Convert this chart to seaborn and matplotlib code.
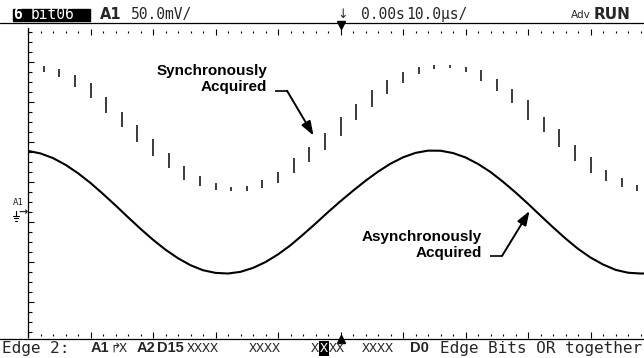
import matplotlib
matplotlib.use("Agg")
import matplotlib.pyplot as plt
from matplotlib.lines import Line2D
from matplotlib.patches import Rectangle
import seaborn as sns
import pandas as pd

# ---- synchronously acquired trace: one vertical bar per sample (µs, mV) ----
sync_t = [-47.5, -45.0, -42.5, -40.0, -37.5, -35.0, -32.5, -30.0, -27.5, -25.0,
          -22.5, -20.0, -17.5, -15.0, -12.5, -10.0, -7.5, -5.0, -2.5, 0.0,
          2.5, 5.0, 7.5, 10.0, 12.5, 15.0, 17.5, 20.0, 22.5, 25.0,
          27.5, 30.0, 32.5, 35.0, 37.5, 40.0, 42.5, 45.0, 47.5]
sync_hi = [182.5, 178.4, 171.3, 160.9, 144.1, 125.4, 108.8, 91.3, 73.4, 57.5,
           45.0, 35.9, 31.6, 32.5, 40.0, 50.4, 67.1, 80.9, 99.1, 118.4,
           135.0, 152.5, 165.0, 175.4, 181.6, 183.8, 183.8, 181.6, 177.5, 165.9,
           153.8, 140.0, 119.1, 103.8, 83.8, 68.4, 52.5, 42.1, 33.8]
sync_lo = [175.4, 168.4, 155.9, 142.1, 123.4, 105.9, 87.9, 70.4, 54.6, 40.0,
           32.5, 27.5, 26.6, 26.6, 29.6, 35.9, 48.4, 62.1, 77.5, 95.0,
           115.0, 130.9, 147.5, 160.9, 172.5, 178.8, 179.6, 174.6, 164.1, 151.3,
           135.9, 115.0, 99.6, 80.9, 64.1, 48.4, 39.1, 30.9, 26.6]

# ---- asynchronously acquired trace (µs, mV) ----
async_t = [-50, -48, -46, -44, -42, -40, -38, -36, -34, -32, -30, -28, -26,
           -24, -22, -20, -18, -16, -14, -12, -10, -8, -6, -4, -2,
           0, 2, 4, 6, 8, 10, 12, 14, 16, 18, 20, 22, 24, 26, 28,
           30, 32, 34, 36, 38, 40, 42, 44, 46, 48, 48.6]
async_mv = [76.4, 73.2, 67.4, 59.0, 48.5, 36.3, 22.6, 8.3, -6.5, -21.0, -34.7,
            -47.1, -57.8, -66.5, -72.8, -76.1, -76.9, -74.8, -69.9, -62.6,
            -53.0, -41.6, -28.3, -14.5, -0.2,
            13.5, 26.5, 39.0, 50.4, 60.4, 68.3, 73.9, 76.7, 76.6, 73.7, 68.2,
            60.1, 50.0, 37.8, 24.5, 10.3, -4.5, -19.1, -33.1, -46.0, -56.9,
            -65.6, -72.3, -75.9, -76.9, -76.8]

header_left = ["6", "bit06"]
status_tokens = ["Edge 2:", "A1", "↱", "X", "A2", "D15", "XXXX", "XXXX", "X",
                 "X", "XX", "XXXX", "D0", "Edge Bits OR together"]

W, H = 644, 358
sns.set_theme(style="white")
plt.rcParams["font.family"] = ["DejaVu Sans", "DejaVu Sans Mono"]

fig = plt.figure(figsize=(W / 100, H / 100), dpi=100)
fig.patch.set_facecolor("white")


def fx(px):
    return px / W


def fy(py):
    return 1 - py / H


# screen: 10 µs/div horizontally, 50 mV/div vertically
top_px, bot_px = 31.5, 335
ax = fig.add_axes([fx(28), fy(bot_px), (653 - 28) / W, (bot_px - top_px) / H])
ax.set_facecolor("white")
ax.set_xlim(-50, 50)
v_top = (212 - top_px) * 1.25
v_bot = (212 - bot_px) * 1.25
ax.set_ylim(v_bot, v_top)

for s in ["top", "right", "bottom"]:
    ax.spines[s].set_visible(False)
ax.spines["left"].set_color("black")
ax.spines["left"].set_linewidth(0.9)
ax.spines["left"].set_bounds(v_bot - 2 * 1.25, v_top + 3.5 * 1.25)

ax.xaxis.set_major_locator(matplotlib.ticker.MultipleLocator(10))
ax.xaxis.set_minor_locator(matplotlib.ticker.MultipleLocator(2))
ax.yaxis.set_major_locator(matplotlib.ticker.FixedLocator(
    [-112.5, -62.5, -12.5, 37.5, 87.5, 137.5, 187.5]))
ax.yaxis.set_minor_locator(matplotlib.ticker.MultipleLocator(12.5))
ax.tick_params(axis="x", which="both", top=True, bottom=True, direction="inout",
               labelbottom=False, labeltop=False, color="black")
ax.tick_params(axis="x", which="major", length=5, width=0.8)
ax.tick_params(axis="x", which="minor", length=1.6, width=0.8)
ax.tick_params(axis="y", which="both", left=True, direction="in",
               labelleft=False, color="black")
ax.tick_params(axis="y", which="major", length=4.5, width=0.8)
ax.tick_params(axis="y", which="minor", length=3, width=0.8)
ax.grid(False)

# synchronous samples as short vertical bars
ax.vlines(sync_t, sync_lo, sync_hi, color="#1a1a1a", linewidth=1.2)

# asynchronous trace
df = pd.DataFrame({"t": async_t, "mv": async_mv})
sns.lineplot(data=df, x="t", y="mv", ax=ax, color="black", linewidth=1.5,
             sort=False, estimator=None)
ax.set_xlabel("")
ax.set_ylabel("")


def to_data(px, py):
    return (px - 340.5) / 6.25, (212 - py) * 1.25


# annotations
ann_font = dict(family=["Liberation Sans Narrow", "Liberation Sans"],
                weight="bold", fontsize=11, color="black")
tx, ty = to_data(267, 79)
ax.text(tx, ty, "Synchronously\nAcquired", ha="right", va="center",
        multialignment="right", linespacing=1.2, **ann_font)
x0, y0 = to_data(275, 90.7)
x1, y1 = to_data(287, 90.7)
ax.plot([x0, x1], [y0, y1], color="black", lw=1.2, solid_capstyle="butt")
ax.annotate("", xy=to_data(313.5, 135.5), xytext=(x1, y1),
            arrowprops=dict(arrowstyle="-|>,head_length=0.7,head_width=0.25",
                            color="black", lw=1.4, shrinkA=0, shrinkB=0))

tx, ty = to_data(482, 245)
ax.text(tx, ty, "Asynchronously\nAcquired", ha="right", va="center",
        multialignment="right", linespacing=1.2, **ann_font)
x0, y0 = to_data(490, 256)
x1, y1 = to_data(502, 256)
ax.plot([x0, x1], [y0, y1], color="black", lw=1.2, solid_capstyle="butt")
ax.annotate("", xy=to_data(529.5, 211), xytext=(x1, y1),
            arrowprops=dict(arrowstyle="-|>,head_length=0.7,head_width=0.25",
                            color="black", lw=1.4, shrinkA=0, shrinkB=0))

# trigger position markers (t = 0)
ax.plot([0], [1.02], marker="v", color="black", markersize=6,
        transform=ax.get_xaxis_transform(), clip_on=False)
ax.plot([0], [-0.012], marker="^", color="black", markersize=6,
        transform=ax.get_xaxis_transform(), clip_on=False)

# frame lines above and below the screen
fig.add_artist(Line2D([0, 1], [fy(22.7), fy(22.7)], color="black", lw=0.9))
fig.add_artist(Line2D([0, 1], [fy(339.3), fy(339.3)], color="black", lw=0.9))

# channel A1 ground reference marker
mono = ["DejaVu Sans Mono", "DejaVu Sans"]
fig.text(fx(12.5), fy(202.5), "A1", fontsize=6.5, family=mono,
         va="center", ha="left")
fig.text(fx(28), fy(212.5), "→", fontsize=8, fontweight="bold",
         va="center", ha="right")
# ground symbol drawn as strokes
for py, x_a, x_b in [(215.5, 13, 19), (218, 14, 18), (220.5, 15.2, 16.8)]:
    fig.add_artist(Line2D([fx(x_a), fx(x_b)], [fy(py), fy(py)],
                          color="black", lw=0.8))
fig.add_artist(Line2D([fx(16), fx(16)], [fy(211), fy(215.5)], color="black",
                      lw=0.8))

# header line
hy = fy(14.5)
fig.add_artist(Rectangle((fx(13), fy(20.5)), fx(90) - fx(13), fy(9) - fy(20.5),
                         color="black", transform=fig.transFigure))
fig.text(fx(13.5), hy, header_left[0], color="white", fontweight="bold",
         fontsize=10.5, va="center", ha="left", family=mono)
fig.text(fx(31), hy, header_left[1], color="white", fontsize=10.5,
         va="center", ha="left", family=mono)
fig.text(fx(100), hy, "A1", fontweight="bold", fontsize=10.5, va="center",
         ha="left")
fig.text(fx(131), hy, "50.0mV/", fontsize=10.5, va="center", ha="left",
         family=mono)
fig.text(fx(337), hy, "↓", fontsize=9, va="center", ha="left")
fig.text(fx(361), hy, "0.00s", fontsize=10.5, va="center", ha="left",
         family=mono)
fig.text(fx(406), hy, "10.0µs/", fontsize=10.5, va="center", ha="left",
         family=mono)
fig.text(fx(571), hy, "Adv", fontsize=7.5, va="center", ha="left")
fig.text(fx(594), hy, "RUN", fontweight="bold", fontsize=11, va="center",
         ha="left")

# status line
sy = fy(348.5)
status_x = [2, 91, 110, 119, 137, 157, 187, 249, 311, 320, 329, 362, 410, 440]
status_style = ["w", "b", "s", "x", "b", "b", "x", "x", "x", "xi", "x", "x",
                "b", "w"]
for tok, x, st in zip(status_tokens, status_x, status_style):
    kw = dict(va="center", ha="left")
    if st == "b":
        kw.update(fontweight="bold", fontsize=10.5,
                  family=["Liberation Sans", "DejaVu Sans"])
    elif st == "w":
        kw.update(fontsize=11.5, family=mono)
    elif st == "s":
        kw.update(fontsize=9)
    else:
        kw.update(fontsize=9.5, family=mono)
    if st == "xi":
        kw["color"] = "white"
        kw["bbox"] = dict(boxstyle="square,pad=0.05", fc="black", ec="none")
    fig.text(fx(x), sy, tok, **kw)

fig.savefig("out.png", dpi=100, facecolor="white")
